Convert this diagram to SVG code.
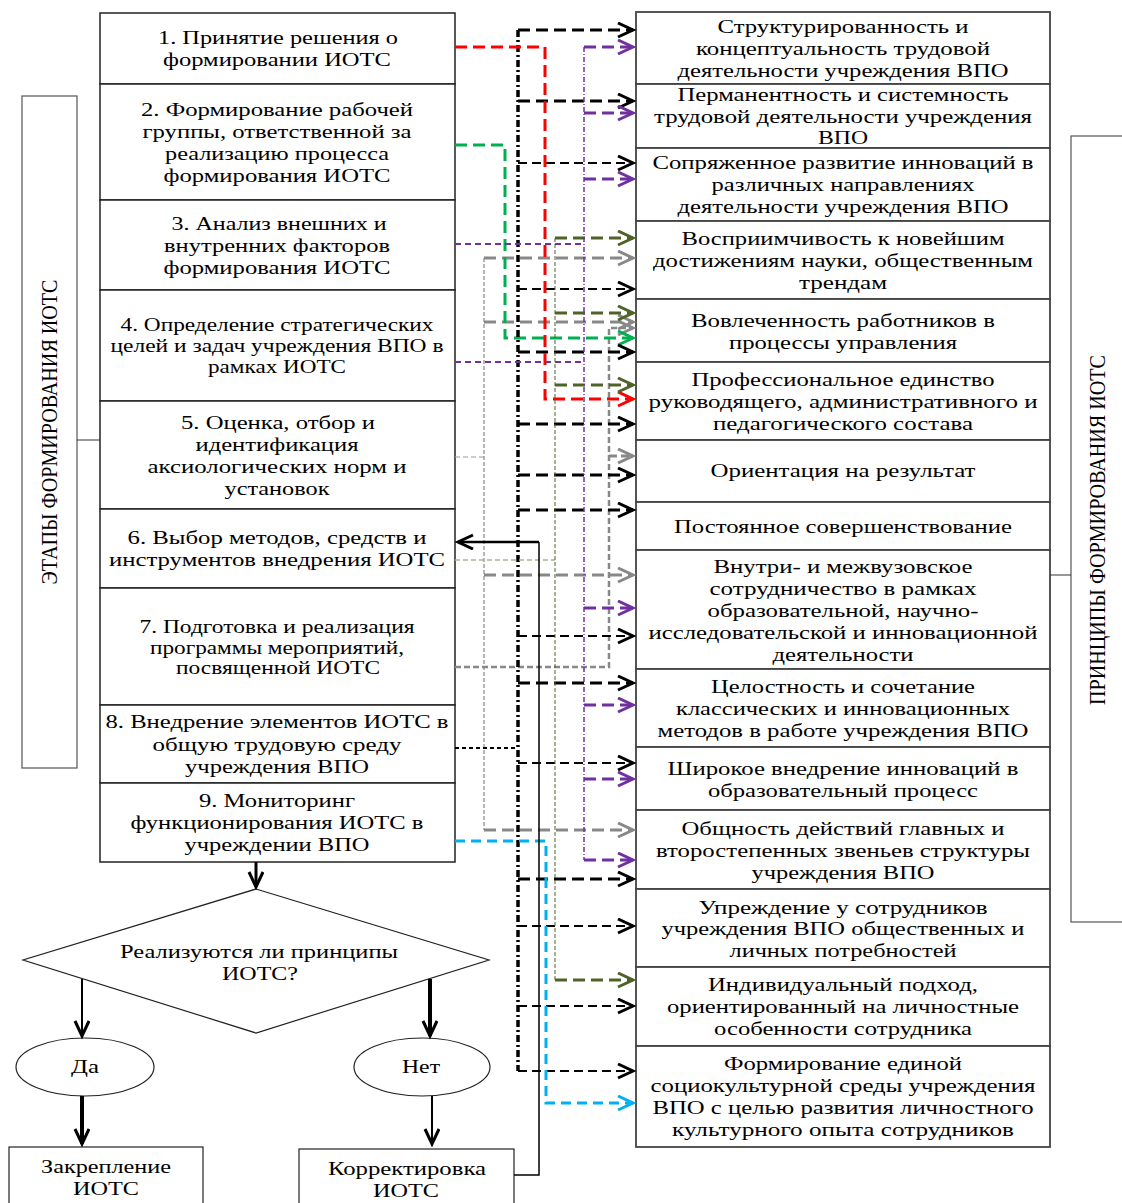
<svg xmlns="http://www.w3.org/2000/svg" width="1122" height="1203" viewBox="0 0 1122 1203">
<style>
text{font-family:"Liberation Serif","Times New Roman",serif;font-size:19px;fill:#000;text-anchor:middle}
.lab{font-size:24px}
.box{fill:#fff;stroke:#222;stroke-width:1.5}
.rb{fill:#fff;stroke:#444;stroke-width:1.8}
.c{fill:none}
.bk3{stroke:#000;stroke-width:3;stroke-dasharray:12 6}
.bk2{stroke:#000;stroke-width:2;stroke-dasharray:9 5}
.pu3{stroke:#7030a0;stroke-width:3;stroke-dasharray:12 6}
.ol3{stroke:#4f6228;stroke-width:3;stroke-dasharray:12 6}
.gr3{stroke:#888;stroke-width:3;stroke-dasharray:12 6}
</style>
<defs>
<marker id="ab" markerUnits="userSpaceOnUse" markerWidth="20" markerHeight="18" refX="16" refY="8" orient="auto"><path d="M1,1 L16,8 L1,15" fill="none" stroke="#000" stroke-width="3"/></marker>
<marker id="ap" markerUnits="userSpaceOnUse" markerWidth="20" markerHeight="18" refX="16" refY="8" orient="auto"><path d="M1,1 L16,8 L1,15" fill="none" stroke="#7030a0" stroke-width="3"/></marker>
<marker id="ar" markerUnits="userSpaceOnUse" markerWidth="20" markerHeight="18" refX="16" refY="8" orient="auto"><path d="M1,1 L16,8 L1,15" fill="none" stroke="#ff0000" stroke-width="3"/></marker>
<marker id="ag" markerUnits="userSpaceOnUse" markerWidth="20" markerHeight="18" refX="16" refY="8" orient="auto"><path d="M1,1 L16,8 L1,15" fill="none" stroke="#00b050" stroke-width="3"/></marker>
<marker id="ao" markerUnits="userSpaceOnUse" markerWidth="20" markerHeight="18" refX="16" refY="8" orient="auto"><path d="M1,1 L16,8 L1,15" fill="none" stroke="#4f6228" stroke-width="3"/></marker>
<marker id="ay" markerUnits="userSpaceOnUse" markerWidth="20" markerHeight="18" refX="16" refY="8" orient="auto"><path d="M1,1 L16,8 L1,15" fill="none" stroke="#888" stroke-width="3"/></marker>
<marker id="ac" markerUnits="userSpaceOnUse" markerWidth="20" markerHeight="18" refX="16" refY="8" orient="auto"><path d="M1,1 L16,8 L1,15" fill="none" stroke="#00b0f0" stroke-width="3"/></marker>
</defs>
<rect width="1122" height="1203" fill="#fff"/>

<!-- side labels -->
<g id="stages-label">
<rect x="22" y="96" width="55" height="672" fill="#fff" stroke="#555" stroke-width="1.2"/>
<text class="lab" transform="translate(49,432) rotate(-90)" y="8" textLength="305" lengthAdjust="spacingAndGlyphs">ЭТАПЫ ФОРМИРОВАНИЯ ИОТС</text>
</g>
<g id="principles-label">
<rect x="1071" y="136" width="55" height="786" fill="#fff" stroke="#555" stroke-width="1.2"/>
<text class="lab" transform="translate(1097,530) rotate(-90)" y="8" textLength="350" lengthAdjust="spacingAndGlyphs">ПРИНЦИПЫ ФОРМИРОВАНИЯ ИОТС</text>
</g>

<!-- stages -->
<g id="stage1"><rect class="box" x="100" y="13" width="355" height="71"/>
<text x="278" y="44" textLength="240" lengthAdjust="spacingAndGlyphs">1. Принятие решения о</text>
<text x="277" y="66" textLength="228" lengthAdjust="spacingAndGlyphs">формировании ИОТС</text></g>
<g id="stage2"><rect class="box" x="100" y="84" width="355" height="116"/>
<text x="277" y="116" textLength="272" lengthAdjust="spacingAndGlyphs">2. Формирование рабочей</text>
<text x="277" y="138" textLength="269" lengthAdjust="spacingAndGlyphs">группы, ответственной за</text>
<text x="277" y="160" textLength="224" lengthAdjust="spacingAndGlyphs">реализацию процесса</text>
<text x="277" y="182" textLength="227" lengthAdjust="spacingAndGlyphs">формирования ИОТС</text></g>
<g id="stage3"><rect class="box" x="100" y="200" width="355" height="90"/>
<text x="279" y="230" textLength="215" lengthAdjust="spacingAndGlyphs">3. Анализ внешних и</text>
<text x="277" y="252" textLength="226" lengthAdjust="spacingAndGlyphs">внутренних факторов</text>
<text x="277" y="274" textLength="227" lengthAdjust="spacingAndGlyphs">формирования ИОТС</text></g>
<g id="stage4"><rect class="box" x="100" y="290" width="355" height="111"/>
<text x="277" y="331" textLength="313" lengthAdjust="spacingAndGlyphs">4. Определение стратегических</text>
<text x="277" y="352" textLength="333" lengthAdjust="spacingAndGlyphs">целей и задач учреждения ВПО в</text>
<text x="277" y="373" textLength="138" lengthAdjust="spacingAndGlyphs">рамках ИОТС</text></g>
<g id="stage5"><rect class="box" x="100" y="401" width="355" height="108"/>
<text x="278" y="429" textLength="194" lengthAdjust="spacingAndGlyphs">5. Оценка, отбор и</text>
<text x="277" y="451" textLength="163" lengthAdjust="spacingAndGlyphs">идентификация</text>
<text x="277" y="473" textLength="259" lengthAdjust="spacingAndGlyphs">аксиологических норм и</text>
<text x="277" y="495" textLength="105" lengthAdjust="spacingAndGlyphs">установок</text></g>
<g id="stage6"><rect class="box" x="100" y="509" width="355" height="79"/>
<text x="277" y="544" textLength="299" lengthAdjust="spacingAndGlyphs">6. Выбор методов, средств и</text>
<text x="277" y="566" textLength="336" lengthAdjust="spacingAndGlyphs">инструментов внедрения ИОТС</text></g>
<g id="stage7"><rect class="box" x="100" y="588" width="355" height="117"/>
<text x="277" y="633" textLength="275" lengthAdjust="spacingAndGlyphs">7. Подготовка и реализация</text>
<text x="277" y="654" textLength="254" lengthAdjust="spacingAndGlyphs">программы мероприятий,</text>
<text x="278" y="674" textLength="204" lengthAdjust="spacingAndGlyphs">посвященной ИОТС</text></g>
<g id="stage8"><rect class="box" x="100" y="705" width="355" height="78"/>
<text x="277" y="728" textLength="343" lengthAdjust="spacingAndGlyphs">8. Внедрение элементов ИОТС в</text>
<text x="277" y="751" textLength="249" lengthAdjust="spacingAndGlyphs">общую трудовую среду</text>
<text x="277" y="773" textLength="184" lengthAdjust="spacingAndGlyphs">учреждения ВПО</text></g>
<g id="stage9"><rect class="box" x="100" y="783" width="355" height="79"/>
<text x="277" y="807" textLength="156" lengthAdjust="spacingAndGlyphs">9. Мониторинг</text>
<text x="277" y="829" textLength="293" lengthAdjust="spacingAndGlyphs">функционирования ИОТС в</text>
<text x="277" y="851" textLength="185" lengthAdjust="spacingAndGlyphs">учреждении ВПО</text></g>

<!-- principles -->
<g id="p1"><rect class="rb" x="636" y="12" width="414" height="72"/>
<text x="843" y="33" textLength="251" lengthAdjust="spacingAndGlyphs">Структурированность и</text>
<text x="843" y="55" textLength="294" lengthAdjust="spacingAndGlyphs">концептуальность трудовой</text>
<text x="843" y="77" textLength="331" lengthAdjust="spacingAndGlyphs">деятельности учреждения ВПО</text></g>
<g id="p2"><rect class="rb" x="636" y="84" width="414" height="64"/>
<text x="843" y="101" textLength="331" lengthAdjust="spacingAndGlyphs">Перманентность и системность</text>
<text x="843" y="123" textLength="378" lengthAdjust="spacingAndGlyphs">трудовой деятельности учреждения</text>
<text x="843" y="144" textLength="50" lengthAdjust="spacingAndGlyphs">ВПО</text></g>
<g id="p3"><rect class="rb" x="636" y="148" width="414" height="73"/>
<text x="843" y="169" textLength="381" lengthAdjust="spacingAndGlyphs">Сопряженное развитие инноваций в</text>
<text x="843" y="191" textLength="263" lengthAdjust="spacingAndGlyphs">различных направлениях</text>
<text x="843" y="213" textLength="331" lengthAdjust="spacingAndGlyphs">деятельности учреждения ВПО</text></g>
<g id="p4"><rect class="rb" x="636" y="221" width="414" height="78"/>
<text x="843" y="245" textLength="323" lengthAdjust="spacingAndGlyphs">Восприимчивость к новейшим</text>
<text x="843" y="267" textLength="380" lengthAdjust="spacingAndGlyphs">достижениям науки, общественным</text>
<text x="843" y="289" textLength="88" lengthAdjust="spacingAndGlyphs">трендам</text></g>
<g id="p5"><rect class="rb" x="636" y="299" width="414" height="63"/>
<text x="843" y="327" textLength="304" lengthAdjust="spacingAndGlyphs">Вовлеченность работников в</text>
<text x="843" y="349" textLength="228" lengthAdjust="spacingAndGlyphs">процессы управления</text></g>
<g id="p6"><rect class="rb" x="636" y="362" width="414" height="78"/>
<text x="843" y="386" textLength="303" lengthAdjust="spacingAndGlyphs">Профессиональное единство</text>
<text x="843" y="408" textLength="389" lengthAdjust="spacingAndGlyphs">руководящего, административного и</text>
<text x="843" y="430" textLength="260" lengthAdjust="spacingAndGlyphs">педагогического состава</text></g>
<g id="p7"><rect class="rb" x="636" y="440" width="414" height="62"/>
<text x="843" y="477" textLength="265" lengthAdjust="spacingAndGlyphs">Ориентация на результат</text></g>
<g id="p8"><rect class="rb" x="636" y="502" width="414" height="48"/>
<text x="843" y="533" textLength="338" lengthAdjust="spacingAndGlyphs">Постоянное совершенствование</text></g>
<g id="p9"><rect class="rb" x="636" y="550" width="414" height="119"/>
<text x="843" y="573" textLength="259" lengthAdjust="spacingAndGlyphs">Внутри- и межвузовское</text>
<text x="843" y="595" textLength="267" lengthAdjust="spacingAndGlyphs">сотрудничество в рамках</text>
<text x="843" y="617" textLength="271" lengthAdjust="spacingAndGlyphs">образовательной, научно-</text>
<text x="843" y="639" textLength="389" lengthAdjust="spacingAndGlyphs">исследовательской и инновационной</text>
<text x="843" y="661" textLength="141" lengthAdjust="spacingAndGlyphs">деятельности</text></g>
<g id="p10"><rect class="rb" x="636" y="669" width="414" height="78"/>
<text x="843" y="693" textLength="264" lengthAdjust="spacingAndGlyphs">Целостность и сочетание</text>
<text x="843" y="715" textLength="334" lengthAdjust="spacingAndGlyphs">классических и инновационных</text>
<text x="843" y="737" textLength="371" lengthAdjust="spacingAndGlyphs">методов в работе учреждения ВПО</text></g>
<g id="p11"><rect class="rb" x="636" y="747" width="414" height="63"/>
<text x="843" y="775" textLength="351" lengthAdjust="spacingAndGlyphs">Широкое внедрение инноваций в</text>
<text x="843" y="797" textLength="270" lengthAdjust="spacingAndGlyphs">образовательный процесс</text></g>
<g id="p12"><rect class="rb" x="636" y="810" width="414" height="79"/>
<text x="843" y="835" textLength="323" lengthAdjust="spacingAndGlyphs">Общность действий главных и</text>
<text x="843" y="857" textLength="374" lengthAdjust="spacingAndGlyphs">второстепенных звеньев структуры</text>
<text x="843" y="879" textLength="183" lengthAdjust="spacingAndGlyphs">учреждения ВПО</text></g>
<g id="p13"><rect class="rb" x="636" y="889" width="414" height="78"/>
<text x="843" y="914" textLength="289" lengthAdjust="spacingAndGlyphs">Упреждение у сотрудников</text>
<text x="843" y="935" textLength="363" lengthAdjust="spacingAndGlyphs">учреждения ВПО общественных и</text>
<text x="843" y="957" textLength="227" lengthAdjust="spacingAndGlyphs">личных потребностей</text></g>
<g id="p14"><rect class="rb" x="636" y="967" width="414" height="79"/>
<text x="843" y="991" textLength="270" lengthAdjust="spacingAndGlyphs">Индивидуальный подход,</text>
<text x="843" y="1013" textLength="352" lengthAdjust="spacingAndGlyphs">ориентированный на личностные</text>
<text x="843" y="1035" textLength="258" lengthAdjust="spacingAndGlyphs">особенности сотрудника</text></g>
<g id="p15"><rect class="rb" x="636" y="1046" width="414" height="101"/>
<text x="843" y="1070" textLength="238" lengthAdjust="spacingAndGlyphs">Формирование единой</text>
<text x="843" y="1092" textLength="385" lengthAdjust="spacingAndGlyphs">социокультурной среды учреждения</text>
<text x="843" y="1114" textLength="381" lengthAdjust="spacingAndGlyphs">ВПО с целью развития личностного</text>
<text x="843" y="1136" textLength="342" lengthAdjust="spacingAndGlyphs">культурного опыта сотрудников</text></g>

<!-- decision part -->
<g id="decision"><polygon points="256,889 489,960 256,1033 23,960" fill="#fff" stroke="#222" stroke-width="1.2"/>
<text x="259" y="958" textLength="278" lengthAdjust="spacingAndGlyphs">Реализуются ли принципы</text>
<text x="260" y="980" textLength="76" lengthAdjust="spacingAndGlyphs">ИОТС?</text></g>
<g id="yes"><ellipse cx="85" cy="1067" rx="69" ry="29" fill="#fff" stroke="#222" stroke-width="1.2"/>
<text x="85" y="1073" textLength="28" lengthAdjust="spacingAndGlyphs">Да</text></g>
<g id="no"><ellipse cx="422" cy="1067" rx="68" ry="29" fill="#fff" stroke="#222" stroke-width="1.2"/>
<text x="421" y="1073" textLength="38" lengthAdjust="spacingAndGlyphs">Нет</text></g>
<g id="fix"><rect x="9" y="1147" width="194" height="70" fill="#fff" stroke="#222" stroke-width="1.2"/>
<text x="106" y="1173" textLength="130" lengthAdjust="spacingAndGlyphs">Закрепление</text>
<text x="106" y="1195" textLength="66" lengthAdjust="spacingAndGlyphs">ИОТС</text></g>
<g id="correct"><rect x="299" y="1149" width="215" height="70" fill="#fff" stroke="#222" stroke-width="1.2"/>
<text x="407" y="1175" textLength="158" lengthAdjust="spacingAndGlyphs">Корректировка</text>
<text x="406" y="1197" textLength="66" lengthAdjust="spacingAndGlyphs">ИОТС</text></g>

<g id="connectors" fill="none">
<!-- label links -->
<path d="M77,440 H100" stroke="#333" stroke-width="1"/>
<path d="M1050,575 H1071" stroke="#333" stroke-width="1"/>
<!-- gray system 1 -->
<path d="M455,457 H484" stroke="#999" stroke-width="1.2" stroke-dasharray="5 3"/>
<path d="M484,258 V830" stroke="#888" stroke-width="1.2" stroke-dasharray="4 2"/>
<path class="gr3" d="M484,258 H633" marker-end="url(#ay)"/>
<path class="gr3" d="M484,322 H633" marker-end="url(#ay)"/>
<path class="gr3" d="M484,575 H633" marker-end="url(#ay)"/>
<path class="gr3" d="M484,830 H633" marker-end="url(#ay)"/>
<!-- gray system 2 -->
<path d="M455,667 H609 V328 H633" stroke="#888" stroke-width="2.5" stroke-dasharray="6 3" marker-end="url(#ay)"/>
<path d="M609,456 H633" stroke="#888" stroke-width="3" stroke-dasharray="8 4" marker-end="url(#ay)"/>
<!-- green -->
<path d="M455,145 H505 V338 H633" stroke="#00b050" stroke-width="3" stroke-dasharray="12 6" marker-end="url(#ag)"/>
<!-- black system -->
<path d="M455,748 H518" stroke="#000" stroke-width="2" stroke-dasharray="4 3"/>
<path d="M518,30 V1071" stroke="#000" stroke-width="3.5" stroke-dasharray="7 3 2 3"/>
<path class="bk3" d="M518,30 H633" marker-end="url(#ab)"/>
<path class="bk3" d="M518,101 H633" marker-end="url(#ab)"/>
<path class="bk2" d="M518,163 H633" marker-end="url(#ab)"/>
<path class="bk2" d="M518,289 H633" marker-end="url(#ab)"/>
<path class="bk3" d="M518,352 H633" marker-end="url(#ab)"/>
<path class="bk3" d="M518,424 H633" marker-end="url(#ab)"/>
<path class="bk3" d="M518,475 H633" marker-end="url(#ab)"/>
<path class="bk3" d="M518,510 H633" marker-end="url(#ab)"/>
<path class="bk2" d="M518,636 H633" marker-end="url(#ab)"/>
<path class="bk3" d="M518,683 H633" marker-end="url(#ab)"/>
<path class="bk2" d="M518,763 H633" marker-end="url(#ab)"/>
<path class="bk3" d="M518,879 H633" marker-end="url(#ab)"/>
<path class="bk2" d="M518,926 H633" marker-end="url(#ab)"/>
<path class="bk2" d="M518,1006 H633" marker-end="url(#ab)"/>
<path class="bk2" d="M518,1071 H633" marker-end="url(#ab)"/>
<!-- red -->
<path d="M455,47 H545 V399 H633" stroke="#ff0000" stroke-width="3" stroke-dasharray="12 6" marker-end="url(#ar)"/>
<!-- olive -->
<path d="M455,560 H555" stroke="#a6b58f" stroke-width="1.5" stroke-dasharray="5 3"/>
<path d="M555,238 V980" stroke="#4f6228" stroke-width="1" stroke-dasharray="4 2"/>
<path class="ol3" d="M555,238 H633" marker-end="url(#ao)"/>
<path class="ol3" d="M555,313 H633" marker-end="url(#ao)"/>
<path class="ol3" d="M555,385 H633" marker-end="url(#ao)"/>
<path class="ol3" d="M555,980 H633" marker-end="url(#ao)"/>
<!-- purple -->
<path d="M455,244 H584" stroke="#7030a0" stroke-width="2" stroke-dasharray="6 4"/>
<path d="M455,362 H584" stroke="#7030a0" stroke-width="2" stroke-dasharray="6 4"/>
<path d="M584,47 V860" stroke="#7030a0" stroke-width="1.5" stroke-dasharray="5 2 1 2"/>
<path class="pu3" d="M584,47 H633" marker-end="url(#ap)"/>
<path class="pu3" d="M584,113 H633" marker-end="url(#ap)"/>
<path class="pu3" d="M584,179 H633" marker-end="url(#ap)"/>
<path class="pu3" d="M584,608 H633" marker-end="url(#ap)"/>
<path class="pu3" d="M584,705 H633" marker-end="url(#ap)"/>
<path class="pu3" d="M584,779 H633" marker-end="url(#ap)"/>
<path class="pu3" d="M584,860 H633" marker-end="url(#ap)"/>
<!-- cyan -->
<path d="M455,841 H546 V1103 H633" stroke="#00b0f0" stroke-width="3" stroke-dasharray="10 6" marker-end="url(#ac)"/>
<!-- feedback -->
<path d="M514,1175 H539 V542" stroke="#000" stroke-width="1.5"/>
<path d="M539,542 H458" stroke="#000" stroke-width="2.5" marker-end="url(#ab)"/>
<!-- flow arrows -->
<path d="M256,862 V887" stroke="#000" stroke-width="3" marker-end="url(#ab)"/>
<path d="M82,979 V1036" stroke="#000" stroke-width="2" marker-end="url(#ab)"/>
<path d="M430,979 V1036" stroke="#000" stroke-width="4" marker-end="url(#ab)"/>
<path d="M82,1096 V1144" stroke="#000" stroke-width="4" marker-end="url(#ab)"/>
<path d="M432,1096 V1144" stroke="#000" stroke-width="2" marker-end="url(#ab)"/>
</g>
</svg>
